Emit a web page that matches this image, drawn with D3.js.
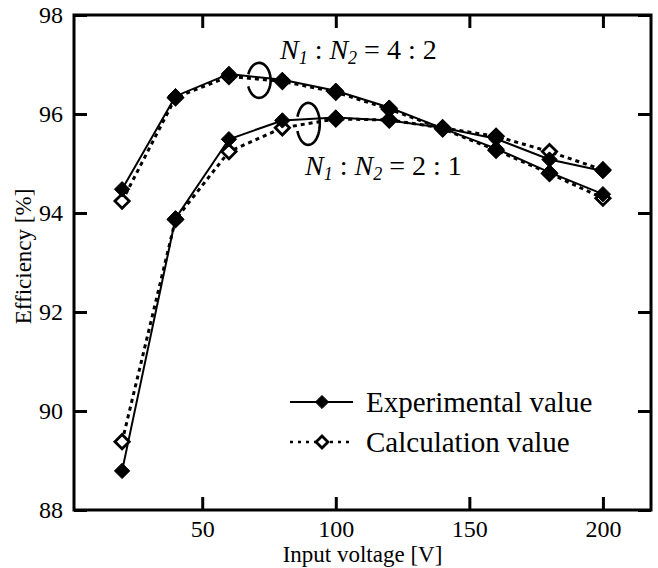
<!DOCTYPE html>
<html>
<head>
<meta charset="utf-8">
<script src="https://cdn.jsdelivr.net/npm/d3@7"></script>
<style>
  body { margin: 0; background: #fff; }
  svg { display: block; font-family: "Liberation Serif", "Times New Roman", serif; }
</style>
</head>
<body>
<div id="chart"></div>
<script>
// input voltage [V]
var voltage = [20, 40, 60, 80, 100, 120, 140, 160, 180, 200];
// N1:N2 = 4:2
var exp42  = [94.48, 96.36, 96.81, 96.69, 96.47, 96.13, 95.71, 95.30, 94.82, 94.38];
var calc42 = [94.24, 96.33, 96.76, 96.66, 96.44, 96.10, 95.70, 95.27, 94.80, 94.30];
// N1:N2 = 2:1
var exp21  = [88.79, 93.89, 95.49, 95.87, 95.93, 95.87, 95.72, 95.50, 95.08, 94.85];
var calc21 = [89.38, 93.87, 95.24, 95.72, 95.90, 95.88, 95.72, 95.55, 95.24, 94.87];

var xTicks = [50, 100, 150, 200];
var yTicks = [88, 90, 92, 94, 96, 98];
var legendLabels = ["Experimental value", "Calculation value"];

var W = 658, H = 568;
var margin = {top: 15, right: 7, bottom: 58, left: 74};
var width = W - margin.left - margin.right;
var height = H - margin.top - margin.bottom;

var svg = d3.select("#chart").append("svg")
    .attr("width", W)
    .attr("height", H);

var g = svg.append("g")
    .attr("transform", "translate(" + margin.left + "," + margin.top + ")");

var x = d3.scaleLinear().domain([2, 218]).range([0, width]);
var y = d3.scaleLinear().domain([88, 98]).range([height, 0]);

// axes, ticks pointing inward on all four sides
function styleAxis(sel) {
  sel.attr("font-family", null);
  sel.select(".domain").remove();
  sel.selectAll(".tick line").attr("stroke", "#000").attr("stroke-width", 3);
  sel.selectAll(".tick text").attr("fill", "#000").style("font-size", "24px");
}

g.append("g")
  .attr("transform", "translate(0," + height + ")")
  .call(d3.axisBottom(x).tickValues(xTicks).tickSizeInner(-13).tickPadding(10))
  .call(styleAxis);

g.append("g")
  .call(d3.axisTop(x).tickValues(xTicks).tickSizeInner(-13).tickFormat(""))
  .call(styleAxis);

g.append("g")
  .call(d3.axisLeft(y).tickValues(yTicks).tickSizeInner(-13).tickPadding(11))
  .call(styleAxis);

g.append("g")
  .attr("transform", "translate(" + width + ",0)")
  .call(d3.axisRight(y).tickValues(yTicks).tickSizeInner(-13).tickFormat(""))
  .call(styleAxis);

// frame
g.append("rect")
  .attr("width", width)
  .attr("height", height)
  .attr("fill", "none")
  .attr("stroke", "#000")
  .attr("stroke-width", 3);

// axis titles
svg.append("text")
  .attr("x", margin.left + width / 2)
  .attr("y", 562)
  .attr("text-anchor", "middle")
  .style("font-size", "23px")
  .text("Input voltage [V]");

svg.append("text")
  .attr("transform", "translate(31," + (margin.top + height / 2 - 6) + ") rotate(-90)")
  .attr("text-anchor", "middle")
  .style("font-size", "23px")
  .text("Efficiency [%]");

// series
var line = d3.line()
  .x(function(d) { return x(d[0]); })
  .y(function(d) { return y(d[1]); });

var diamond = d3.symbol().type(d3.symbolDiamond2);

function drawSeries(vals, calc) {
  var pts = voltage.map(function(v, i) { return [v, vals[i]]; });
  g.append("path")
    .datum(pts)
    .attr("fill", "none")
    .attr("stroke", "#000")
    .attr("stroke-width", calc ? 3 : 2)
    .attr("stroke-dasharray", calc ? "4,4" : null)
    .attr("d", line);
  g.selectAll(null).data(pts).enter().append("path")
    .attr("transform", function(d) { return "translate(" + x(d[0]) + "," + y(d[1]) + ")"; })
    .attr("d", diamond.size(calc ? 130 : 150)())
    .attr("fill", calc ? "#fff" : "#000")
    .attr("stroke", "#000")
    .attr("stroke-width", calc ? 2.8 : 1);
}

drawSeries(calc21, true);
drawSeries(calc42, true);
drawSeries(exp21, false);
drawSeries(exp42, false);

// ring markers around each pair of curves
function ring(cx, cy, rx, ry) {
  var a0 = 200 * Math.PI / 180, a1 = (160 + 360) * Math.PI / 180;
  var p = d3.path();
  var n = 60;
  for (var i = 0; i <= n; i++) {
    var a = a0 + (a1 - a0) * i / n;
    var px = cx + rx * Math.cos(a), py = cy + ry * Math.sin(a);
    if (i === 0) p.moveTo(px, py); else p.lineTo(px, py);
  }
  g.append("path")
    .attr("d", p.toString())
    .attr("fill", "none")
    .attr("stroke", "#000")
    .attr("stroke-width", 2.6);
}
ring(x(71.3), y(96.68), 11.5, 17.5);
ring(x(89.7), y(95.8), 11.5, 21);

// ratio annotations
function ratioLabel(xv, yv, a, b) {
  var t = g.append("text")
    .attr("x", x(xv))
    .attr("y", y(yv))
    .style("font-size", "28px");
  t.append("tspan").style("font-style", "italic").text("N");
  t.append("tspan").style("font-style", "italic").style("font-size", "18px")
    .attr("dy", 5).text("1");
  t.append("tspan").attr("dy", -5).text(" : ");
  t.append("tspan").style("font-style", "italic").text("N");
  t.append("tspan").style("font-style", "italic").style("font-size", "18px")
    .attr("dy", 5).text("2");
  t.append("tspan").attr("dy", -5).text(" = " + a + " : " + b);
}
ratioLabel(79.1, 97.12, 4, 2);
ratioLabel(88.5, 94.77, 2, 1);

// legend
var legend = svg.append("g").attr("transform", "translate(290,402)");
legendLabels.forEach(function(lbl, i) {
  var row = legend.append("g").attr("transform", "translate(0," + (i * 40) + ")");
  var calc = i === 1;
  row.append("line")
    .attr("x1", 0).attr("x2", 63)
    .attr("stroke", "#000")
    .attr("stroke-width", calc ? 2.5 : 2)
    .attr("stroke-dasharray", calc ? "3,5" : null);
  row.append("path")
    .attr("transform", "translate(32,0)")
    .attr("d", diamond.size(calc ? 90 : 110)())
    .attr("fill", calc ? "#fff" : "#000")
    .attr("stroke", "#000")
    .attr("stroke-width", calc ? 2.8 : 1);
  row.append("text")
    .attr("x", 76)
    .attr("y", 10)
    .style("font-size", "29px")
    .text(lbl);
});
</script>
</body>
</html>
